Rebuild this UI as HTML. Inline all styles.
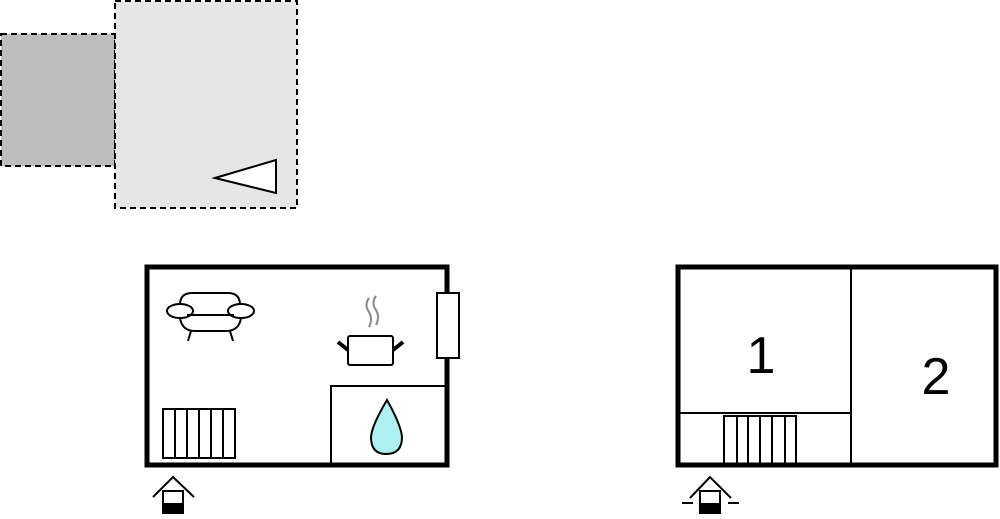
<!DOCTYPE html>
<html><head><style>body{margin:0;background:#fff}</style></head><body>
<svg width="1000" height="514" viewBox="0 0 1000 514" xmlns="http://www.w3.org/2000/svg">
<rect x="1" y="34" width="114" height="132" fill="#bdbdbd" stroke="#000" stroke-width="2" stroke-dasharray="6,4"/>
<rect x="115" y="1" width="182" height="207" fill="#e6e6e6" stroke="#000" stroke-width="2" stroke-dasharray="6,4"/>
<polygon points="215,178 276,160 276,193" fill="#fff" stroke="#000" stroke-width="2"/>

<rect x="147" y="267" width="300" height="198" fill="#fff" stroke="#000" stroke-width="5"/>
<rect x="331" y="386" width="116" height="79" fill="none" stroke="#000" stroke-width="2"/>
<rect x="437" y="293" width="22" height="65" fill="#fff" stroke="#000" stroke-width="2"/>
<g fill="none" stroke="#000" stroke-width="2">
<rect x="163" y="409" width="72" height="49"/>
<line x1="175" y1="409" x2="175" y2="458"/><line x1="187" y1="409" x2="187" y2="458"/>
<line x1="199" y1="409" x2="199" y2="458"/><line x1="211" y1="409" x2="211" y2="458"/>
<line x1="223" y1="409" x2="223" y2="458"/>
<!-- sofa -->
<path d="M180,305 Q180,293 192,293 H228 Q240,293 240,305"/>
<ellipse cx="180" cy="311" rx="13" ry="7" fill="#fff"/>
<ellipse cx="241" cy="311" rx="13" ry="7" fill="#fff"/>
<line x1="187" y1="315" x2="234" y2="315"/>
<path d="M180,318 Q182,331 195,331 H226 Q239,331 241,318"/>
<line x1="191" y1="331" x2="188" y2="341"/><line x1="230" y1="331" x2="233" y2="341"/>
<!-- pot -->
<rect x="348" y="336" width="45" height="29" rx="2"/>
<line x1="338" y1="342" x2="348" y2="350" stroke-width="4"/>
<line x1="403" y1="342" x2="393" y2="350" stroke-width="4"/>
<path d="M369,298 Q364,305 369,312 Q373,319 369,327" stroke="#888"/>
<path d="M376,296 Q371,303 376,310 Q380,317 376,325" stroke="#888"/>
<!-- drop -->
<path d="M387,400 Q372,425 371,437 Q371,454 386,454 Q402,454 402,437 Q401,425 387,400 Z" fill="#aef0f2"/>
</g>
<!-- entrance left -->
<g stroke="#000" stroke-width="2" fill="none">
<polyline points="153,497 173,477 194,497"/>
<rect x="163" y="491" width="20" height="23" fill="#fff"/>
</g>
<rect x="162" y="503" width="22" height="11" fill="#000"/>

<rect x="678" y="267" width="318" height="198" fill="#fff" stroke="#000" stroke-width="5"/>
<g stroke="#000" stroke-width="2" fill="none">
<line x1="851" y1="267" x2="851" y2="465"/>
<line x1="678" y1="413" x2="851" y2="413"/>
<rect x="724" y="416" width="72" height="49" fill="#fff"/>
<line x1="737" y1="416" x2="737" y2="465"/><line x1="748" y1="416" x2="748" y2="465"/>
<line x1="760" y1="416" x2="760" y2="465"/><line x1="772" y1="416" x2="772" y2="465"/>
<line x1="785" y1="416" x2="785" y2="465"/>
</g>
<line x1="724" y1="465" x2="796" y2="465" stroke="#000" stroke-width="5"/>
<text x="761" y="373" font-family="Liberation Sans, sans-serif" font-size="52" text-anchor="middle">1</text>
<text x="936" y="394" font-family="Liberation Sans, sans-serif" font-size="52" text-anchor="middle">2</text>
<g stroke="#000" stroke-width="2" fill="none">
<polyline points="690,498 710,477 731,498"/>
<rect x="700" y="491" width="20" height="23" fill="#fff"/>
<line x1="682" y1="503" x2="693" y2="503"/><line x1="728" y1="503" x2="739" y2="503"/>
</g>
<rect x="699" y="503" width="22" height="11" fill="#000"/>
</svg>
</body></html>
